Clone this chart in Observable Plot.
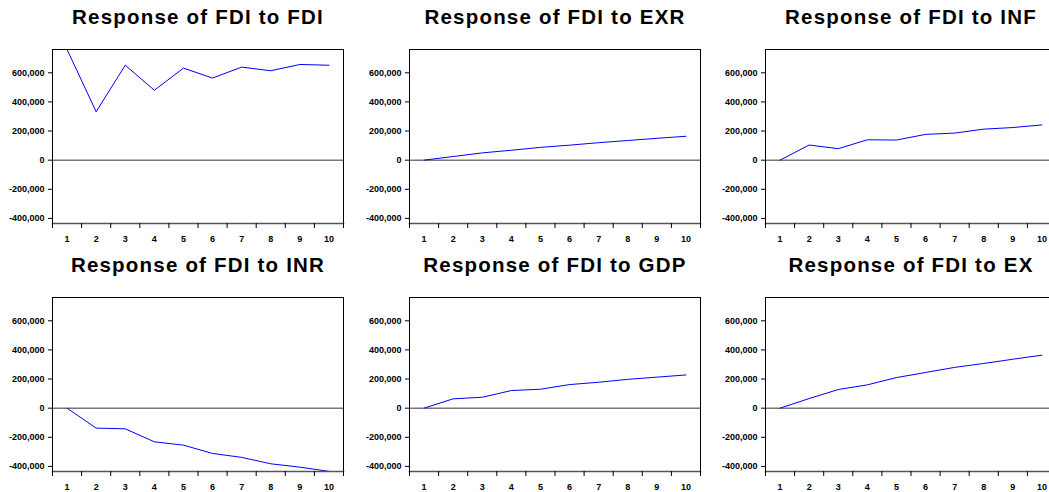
<!DOCTYPE html>
<html><head><meta charset="utf-8">
<script src="https://cdn.jsdelivr.net/npm/d3@7"></script>
<script src="https://cdn.jsdelivr.net/npm/@observablehq/plot@0.6"></script>
<style>
body{margin:0;background:#fff;}
#wrap{position:relative;width:1049px;height:492px;overflow:hidden;background:#fff;}
.panel{position:absolute;width:357px;height:245px;}
.panel svg{max-width:none !important;}
</style></head><body><div id="wrap"></div>
<script>
const periods = [1, 2, 3, 4, 5, 6, 7, 8, 9, 10];
const titles = ["Response of FDI to FDI", "Response of FDI to EXR", "Response of FDI to INF",
                "Response of FDI to INR", "Response of FDI to GDP", "Response of FDI to EX"];
const fdiFdi = [760000, 333000, 652000, 480000, 632000, 564000, 639000, 614000, 657000, 652000];
const fdiExr = [0, 25000, 50000, 68000, 88000, 103000, 120000, 135000, 150000, 164000];
const fdiInf = [0, 104000, 79000, 140000, 138000, 177000, 186000, 213000, 224000, 242000];
const fdiInr = [0, -137000, -142000, -231000, -254000, -311000, -338000, -382000, -405000, -434000];
const fdiGdp = [0, 64000, 75000, 121000, 130000, 162000, 178000, 198000, 213000, 228000];
const fdiEx  = [0, 66000, 128000, 160000, 210000, 245000, 280000, 307000, 336000, 364000];
const yTicks = [-400000, -200000, 0, 200000, 400000, 600000];
const yDomain = [-435000, 760000];

const series = [fdiFdi, fdiExr, fdiInf, fdiInr, fdiGdp, fdiEx];
const lefts = [0, 357, 713];
const tops = [0, 248];
const edges = [0, ...periods].map(p => p + 0.5);
const font = "'Liberation Sans', Arial, Helvetica, sans-serif";
const wrap = document.getElementById("wrap");

series.forEach((vals, i) => {
  const data = periods.map((p, j) => ({period: p, value: vals[j]}));
  const plot = Plot.plot({
    width: 357, height: 245,
    marginLeft: 52, marginRight: 14, marginTop: 49, marginBottom: 22,
    style: {fontFamily: font, fontSize: "9px", fontWeight: "bold", color: "#000", background: "transparent", overflow: "visible", maxWidth: "none"},
    x: {type: "linear", domain: [0.5, 10.5]},
    y: {domain: yDomain},
    marks: [
      Plot.ruleY([0], {stroke: "#777", strokeWidth: 1.5}),
      Plot.line(data, {x: "period", y: "value", stroke: "#0000ff", strokeWidth: 1, clip: true}),
      Plot.frame({stroke: "#000", strokeWidth: 1}),
      Plot.frame({anchor: "bottom", stroke: "#555", strokeWidth: 1.5}),
      Plot.axisY({ticks: yTicks, tickSize: 4, tickPadding: 4, tickFormat: d => d.toLocaleString("en-US"), label: null, stroke: "#000"}),
      Plot.axisX({ticks: edges, tickSize: 5, tickFormat: () => "", label: null, stroke: "#000"}),
      Plot.axisX({ticks: periods, tickSize: 0, tickPadding: 12, tickFormat: d => String(d), label: null}),
      Plot.text([titles[i]], {frameAnchor: "top", lineAnchor: "middle", dy: -32, fontSize: 20.5, fontWeight: "bold", fill: "#000"})
    ]
  });
  d3.select(plot).selectAll('g[aria-label="text"] text').style("letter-spacing", "1.2px");
  const div = document.createElement("div");
  div.className = "panel";
  div.style.left = lefts[i % 3] + "px";
  div.style.top = tops[Math.floor(i / 3)] + "px";
  div.appendChild(plot);
  wrap.appendChild(div);
});
</script></body></html>
